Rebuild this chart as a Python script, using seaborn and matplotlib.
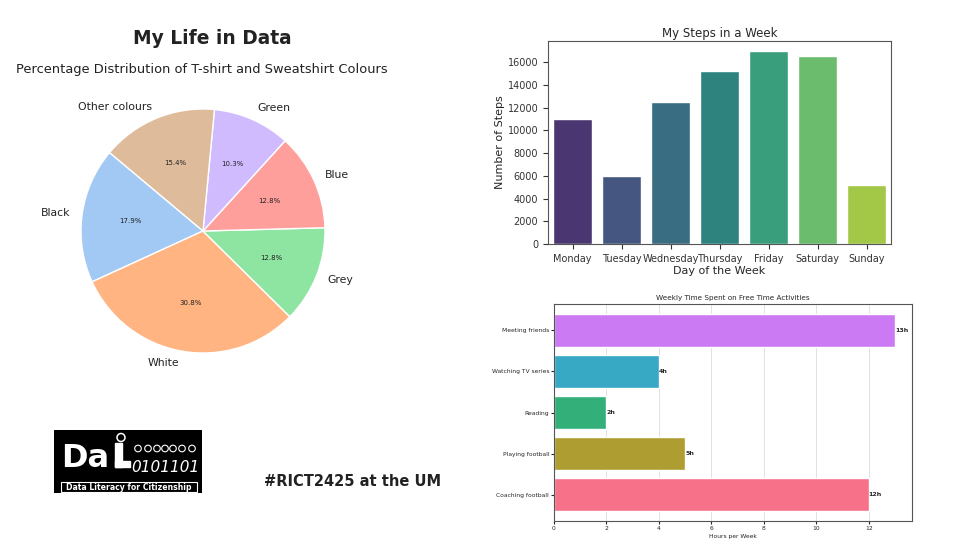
import matplotlib
matplotlib.use("Agg")
import matplotlib.pyplot as plt
import matplotlib.patches as mpatches
import seaborn as sns

# Pie data (T-shirt / sweatshirt colours, counts)
shirt_colours = ['Black', 'White', 'Grey', 'Blue', 'Green', 'Other colours']
shirt_counts = [7, 12, 5, 5, 4, 6]

# Steps per day
days = ['Monday', 'Tuesday', 'Wednesday', 'Thursday', 'Friday', 'Saturday', 'Sunday']
steps = [11000, 6000, 12500, 15200, 17000, 16500, 5200]

# Free time activities (bottom to top)
activities = ['Coaching football', 'Playing football', 'Reading',
              'Watching TV series', 'Meeting friends']
hours = [12, 5, 2, 4, 13]

sns.set_style("white")
plt.rcParams['font.family'] = ['DejaVu Sans']

W, H = 973, 547
fig = plt.figure(figsize=(W / 100, H / 100), dpi=100)


def box(l, t, r, b):
    # pixel box -> figure fraction
    return [l / W, 1 - b / H, (r - l) / W, (b - t) / H]


# Titles
fig.text(212 / W, 1 - 39 / H, 'My Life in Data', ha='center', va='center',
         fontsize=13.4, fontweight='bold', color='#222222')
fig.text(202 / W, 1 - 70 / H, 'Percentage Distribution of T-shirt and Sweatshirt Colours',
         ha='center', va='center', fontsize=9.4, color='#222222')

# Pie chart
ax_pie = fig.add_axes(box(50.5, 78.5, 355.5, 383.5))
ax_pie.pie(shirt_counts, labels=shirt_colours, colors=sns.color_palette('pastel'),
           autopct='%1.1f%%', startangle=140,
           textprops={'fontsize': 7.8, 'color': '#222222'})
for t in ax_pie.texts:
    if t.get_text().endswith('%'):
        t.set_fontsize(5)
ax_pie.set_aspect('equal')

# Steps bar chart
ax_bar = fig.add_axes(box(548, 41, 891, 244))
sns.barplot(x=days, y=steps, hue=days, palette='viridis', legend=False, ax=ax_bar)
ax_bar.set_title('My Steps in a Week', fontsize=8.5, pad=3)
ax_bar.set_xlabel('Day of the Week', fontsize=8, labelpad=1.5)
ax_bar.set_ylabel('Number of Steps', fontsize=8, labelpad=1.5)
ax_bar.tick_params(labelsize=7, left=True, bottom=True, colors='#333333')
for s in ax_bar.spines.values():
    s.set_color('#555555')
    s.set_linewidth(0.8)

# Activities horizontal bar chart
ax_h = fig.add_axes(box(554, 304, 912, 521))
colors = sns.husl_palette(len(activities))
ax_h.barh(activities, hours, color=colors, height=0.8, zorder=2)
for i, v in enumerate(hours):
    ax_h.text(v, i, f'{v}h', va='center', ha='left', fontsize=4.5, fontweight='bold')
ax_h.grid(axis='x', color='#dddddd', linewidth=0.6, zorder=0)
ax_h.set_title('Weekly Time Spent on Free Time Activities', fontsize=5.2, pad=3)
ax_h.set_xlabel('Hours per Week', fontsize=4.3, labelpad=2)
ax_h.tick_params(labelsize=4.3, length=2, left=True, bottom=True, pad=1.5)
for s in ax_h.spines.values():
    s.set_color('#555555')
    s.set_linewidth(0.8)

# Logo (pixel offsets inside the black box)
ax_logo = fig.add_axes(box(54, 430, 202, 493))
ax_logo.set_xlim(0, 148)
ax_logo.set_ylim(63, 0)
ax_logo.axis('off')
ax_logo.add_patch(mpatches.Rectangle((0, 0), 148, 63, color='black'))
ax_logo.add_patch(mpatches.Rectangle((7, 52), 136, 10, facecolor='black',
                                     edgecolor='white', linewidth=0.8))
ax_logo.text(75, 57.3, 'Data Literacy for Citizenship', color='white', ha='center',
             va='center', fontsize=5.6, fontweight='bold')
ax_logo.text(7, 37, 'Da', color='white', ha='left', va='baseline',
             fontsize=23, fontweight='bold')
ax_logo.add_patch(mpatches.Rectangle((61, 13), 7, 24, color='white'))
ax_logo.add_patch(mpatches.Rectangle((61, 31), 15, 6, color='white'))
ax_logo.add_patch(mpatches.Circle((67, 7.5), 4, facecolor='none',
                                  edgecolor='white', linewidth=1.1))
ax_logo.text(111, 42, '0101101', color='white', ha='center', va='baseline',
             fontsize=11, fontstyle='italic')
for hx in [84, 94, 103, 111, 119, 128, 138]:
    ax_logo.add_patch(mpatches.Circle((hx, 18.5), 3.3, facecolor='none',
                                      edgecolor='white', linewidth=0.8))

fig.text(353 / W, 1 - 481 / H, '#RICT2425 at the UM', ha='center', va='center',
         fontsize=10.5, fontweight='bold', color='#222222')

fig.savefig('out.png', dpi=100)
